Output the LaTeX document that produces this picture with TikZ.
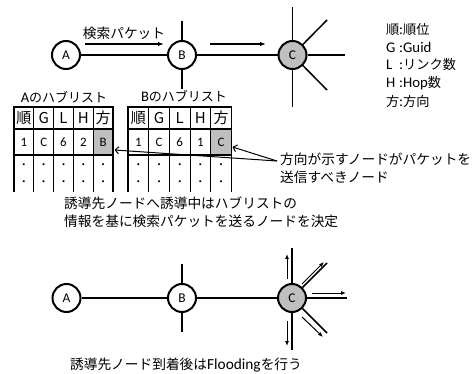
\documentclass[tikz,border=0pt]{standalone}
\usepackage{fontspec}
\setmainfont{Carlito}[Scale=1.12]
\newfontfamily\jp{Noto Sans CJK JP}
\usetikzlibrary{arrows.meta}
\definecolor{gr}{HTML}{BFBFBF}
\begin{document}
\begin{tikzpicture}[x=1pt,y=-1pt,
  nd/.style={circle,draw,line width=2pt,minimum size=28pt,inner sep=0pt,fill=white,font=\fontsize{12}{14}\selectfont},
  link/.style={line width=1.5pt},
  mv/.style={line width=1.2pt,-{Latex[length=6pt,width=4.5pt]}},
  fl/.style={line width=1pt,-{Latex[length=5pt,width=4pt]}},
  pt/.style={line width=1pt,-{Straight Barb[length=3.5pt,width=7pt]}},
  lbl/.style={inner sep=0pt,font=\fontsize{13.7}{17.5}\selectfont},
  leg/.style={inner sep=0pt,anchor=base west,font=\fontsize{13.2}{15}\selectfont},
  ttl/.style={inner sep=0pt,font=\fontsize{13}{15}\selectfont},
  hd/.style={inner sep=0pt,font=\fontsize{15}{17}\selectfont},
  cl/.style={inner sep=0pt,font=\fontsize{11.5}{14}\selectfont},
  dt/.style={inner sep=0pt,font=\fontsize{10}{12}\selectfont},
  tab/.style={line width=1.2pt}]
\useasboundingbox (0,0) rectangle (474,374);

% ---------- top network ----------
\node[nd] (A1) at (66,55) {A};
\node[nd] (B1) at (182,55) {B};
\node[nd,fill=gr] (C1) at (292.5,55) {C};
\coordinate (B1t) at (182,21);
\coordinate (B1b) at (182,89);
\coordinate (C1t) at (292.5,7);
\coordinate (C1b) at (292.5,107);
\coordinate (C1r) at (345,55);
\coordinate (C1ne) at (327,20);
\coordinate (C1se) at (327,90);
\draw[link] (A1) -- (B1);
\draw[link] (B1) -- (C1);
\draw[link] (C1) -- (C1r);
\draw[link] (B1) -- (B1t);
\draw[link] (B1) -- (B1b);
\draw[link] (C1) -- (C1t);
\draw[link] (C1) -- (C1b);
\draw[link] (C1) -- (C1ne);
\draw[link] (C1) -- (C1se);
\coordinate (m1s) at (85,44);
\coordinate (m1e) at (164,44);
\coordinate (m2s) at (210,44);
\coordinate (m2e) at (266,44);
\draw[mv] (m1s) -- (m1e);
\draw[mv] (m2s) -- (m2e);
\node[lbl] (t1) at (124,33) {\jp 検索パケット};

% ---------- legend ----------
\node[leg] (l1) at (386,35) {\makebox[13pt][l]{\jp 順}:{\jp 順位}};
\node[leg] (l2) at (386,53) {\makebox[13pt][l]{G}:Guid};
\node[leg] (l3) at (386,70) {\makebox[13pt][l]{L}:{\jp リンク数}};
\node[leg] (l4) at (386,88) {\makebox[13pt][l]{H}:Hop{\jp 数}};
\node[leg] (l5) at (386,107) {\makebox[13pt][l]{\jp 方}:{\jp 方向}};

% ---------- tables ----------
\node[ttl] (tA) at (64,97) {A{\jp のハブリスト}};
\node[ttl] (tB) at (184,96) {B{\jp のハブリスト}};
\foreach \x/\w in {14/19.8,128/20.7}{
  \fill[gr] (\x+4*\w,129) rectangle (\x+5*\w,155);
  \foreach \yy in {107,129,155}{
    \draw[tab] (\x-0.6,\yy) -- (\x+5*\w+0.6,\yy);
  }
  \foreach \i in {0,...,5}{
    \draw[tab] (\x+\i*\w,107) -- (\x+\i*\w,192);
  }
}
\foreach \t [count=\i] in {順,G,L,H,方}{
  \node[hd] (ah\i) at (14+19.8*\i-9.9,118) {\jp\t};
  \node[hd] (bh\i) at (128+20.7*\i-10.35,118) {\jp\t};
}
\foreach \t [count=\i] in {1,C,6,2,B}{
  \node[cl] (ar\i) at (14+19.8*\i-9.9,142) {\t};
}
\foreach \t [count=\i] in {1,C,6,1,C}{
  \node[cl] (br\i) at (128+20.7*\i-10.35,142) {\t};
}
\foreach \i in {1,...,5}{
  \node[dt] (ad\i) at (14+19.8*\i-9.9,166) {\jp ・};
  \node[dt] (ae\i) at (14+19.8*\i-9.9,183) {\jp ・};
  \node[dt] (bd\i) at (128+20.7*\i-10.35,166) {\jp ・};
  \node[dt] (be\i) at (128+20.7*\i-10.35,183) {\jp ・};
}

% ---------- pointer label ----------
\node[lbl,align=left,anchor=north west] (pl) at (280,153) {\jp 方向が示すノードがパケットを\\\jp 送信すべきノード};
\coordinate (src) at (277,161);
\coordinate (tgB) at (232.5,147);
\coordinate (tgA) at (114.5,150);
\draw[pt] (src) -- (tgB);
\draw[pt] (src) -- (tgA);

\node[lbl,align=left,anchor=north west] (mid) at (64,197) {\jp 誘導先ノードへ誘導中はハブリストの\\\jp 情報を基に検索パケットを送るノードを決定};

% ---------- bottom network ----------
\node[nd] (A2) at (66.5,298) {A};
\node[nd] (B2) at (182,298) {B};
\node[nd,fill=gr] (C2) at (292,298) {C};
\coordinate (B2t) at (182,264);
\coordinate (B2b) at (182,332);
\coordinate (C2t) at (292,248);
\coordinate (C2b) at (292,350);
\coordinate (C2r) at (347,298);
\coordinate (C2ne) at (327,263);
\coordinate (C2se) at (327,333);
\draw[link] (A2) -- (B2);
\draw[link] (B2) -- (C2);
\draw[link] (C2) -- (C2r);
\draw[link] (B2) -- (B2t);
\draw[link] (B2) -- (B2b);
\draw[link] (C2) -- (C2t);
\draw[link] (C2) -- (C2b);
\draw[link] (C2) -- (C2ne);
\draw[link] (C2) -- (C2se);
\coordinate (fu1) at (287,279); \coordinate (fu2) at (287,254);
\coordinate (fd1) at (287,321); \coordinate (fd2) at (287,346);
\coordinate (fr1) at (312,293); \coordinate (fr2) at (346,293);
\coordinate (fn1) at (302,284); \coordinate (fn2) at (324,262);
\coordinate (fs1) at (302,317); \coordinate (fs2) at (323,337);
\draw[fl] (fu1) -- (fu2);
\draw[fl] (fd1) -- (fd2);
\draw[fl] (fr1) -- (fr2);
\draw[fl] (fn1) -- (fn2);
\draw[fl] (fs1) -- (fs2);

\node[lbl] (cap) at (186,365) {{\jp 誘導先ノード到着後は}Flooding{\jp を行う}};
\end{tikzpicture}
\end{document}
